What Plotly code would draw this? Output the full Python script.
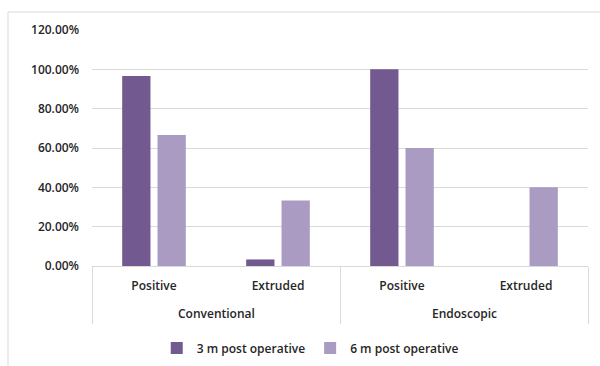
import plotly.graph_objects as go

# Grouped categories: approach (outer) and finding (inner)
approaches = ["Conventional", "Conventional", "Endoscopic", "Endoscopic"]
findings = ["Positive", "Extruded", "Positive", "Extruded"]

# Share of cases at each follow-up
post_op_3m = [0.9667, 0.0333, 1.00, 0.0]
post_op_6m = [0.6667, 0.3333, 0.60, 0.40]

series_names = ["3 m post operative", "6 m post operative"]
colors = ["#72598F", "#A99BC2"]
y_ticks = [0, 0.2, 0.4, 0.6, 0.8, 1.0, 1.2]

FONT = "Open Sans"
TEXT = "#262626"
GRID = "#D9D9D9"

# category slots along the x axis
idx = list(range(len(findings)))

# outer group centres and the boundaries between groups
groups = []
for a in approaches:
    if a not in groups:
        groups.append(a)
group_centres = [sum(i for i in idx if approaches[i] == g) /
                 sum(1 for i in idx if approaches[i] == g) for g in groups]
dividers = [idx[0] - 0.5] + [i + 0.5 for i in idx[:-1]
                             if approaches[i] != approaches[i + 1]] + [idx[-1] + 0.5]
x_range = [idx[0] - 0.5, idx[-1] + 0.5]

tick_font = dict(family=FONT, size=12, color=TEXT, weight=600)

fig = go.Figure()
for name, vals, col in zip(series_names, [post_op_3m, post_op_6m], colors):
    fig.add_trace(go.Bar(
        x=idx, y=vals, name=name,
        marker=dict(color=col, line=dict(width=0)),
    ))

# outer (approach) labels on the second row of the category axis
for g, c in zip(groups, group_centres):
    fig.add_annotation(
        x=c, xref="x", y=0, yref="paper", yanchor="middle",
        yshift=-47, text=g, showarrow=False, font=tick_font,
    )

fig.update_layout(
    width=600, height=366,
    margin=dict(l=92, r=12, t=30, b=100, autoexpand=False),
    paper_bgcolor="white", plot_bgcolor="white",
    barmode="group", bargap=0.43, bargroupgap=0.2,
    font=dict(family=FONT, size=12, color=TEXT),
    showlegend=True,
    legend=dict(
        orientation="h", x=0.44, xanchor="center", y=-0.347, yanchor="middle",
        font=tick_font, itemwidth=30, traceorder="normal",
    ),
    xaxis=dict(
        range=x_range, tickvals=idx, ticktext=findings,
        showline=True, linecolor=GRID, linewidth=1,
        ticks="", showgrid=False, zeroline=False,
        ticklabelstandoff=9, tickfont=tick_font, automargin=False,
        minor=dict(tickvals=dividers, ticks="outside", ticklen=57,
                   tickcolor=GRID, tickwidth=1, showgrid=False),
    ),
    yaxis=dict(
        range=[0, 1.2], tickvals=y_ticks, tickformat=".2%",
        showgrid=True, gridcolor=GRID, gridwidth=1,
        zeroline=False, showline=False, ticks="",
        ticklabelstandoff=12, tickfont=tick_font, automargin=False,
    ),
    shapes=[dict(
        type="rect", xref="paper", yref="paper",
        x0=(8 - 92) / 496, x1=(610 - 92) / 496,
        y0=(266 - 380) / 236, y1=(266 - 12) / 236,
        line=dict(color=GRID, width=1), fillcolor="rgba(0,0,0,0)",
        layer="below",
    )],
)

fig.write_html("out.html")
